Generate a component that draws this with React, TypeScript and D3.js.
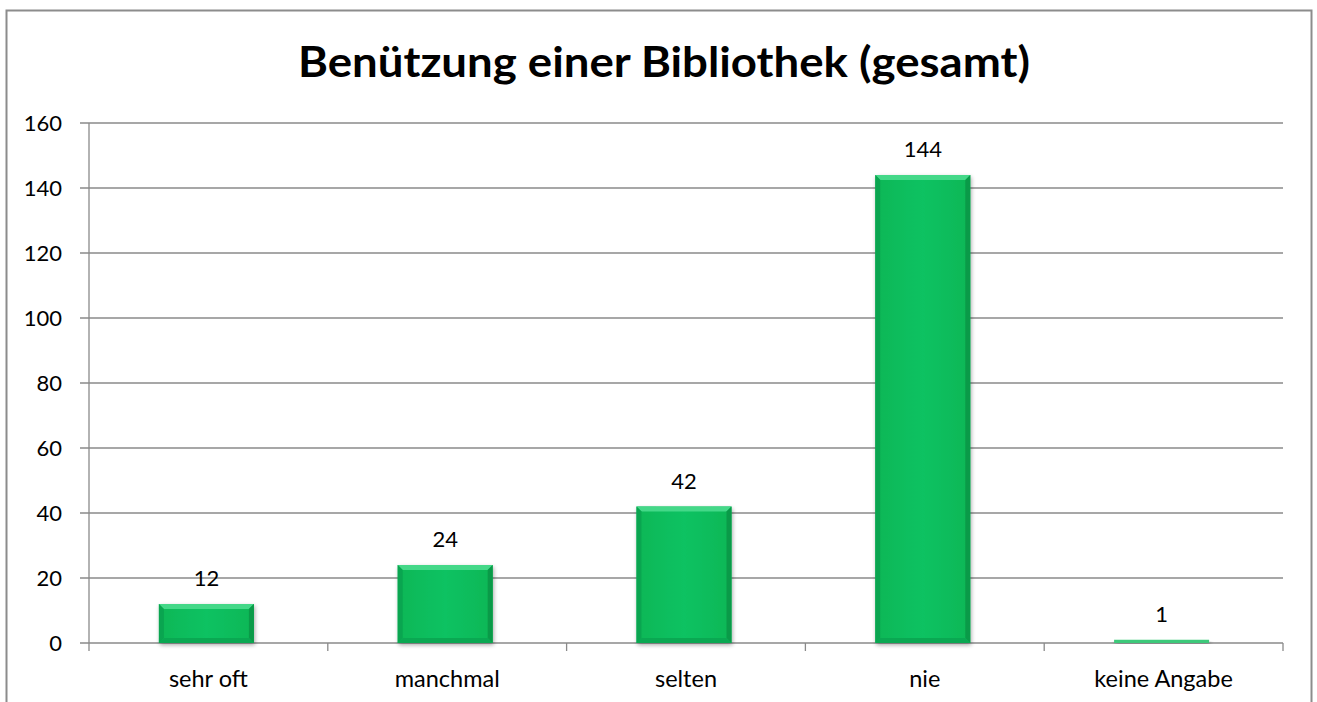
import React from "react";
import * as d3 from "d3";

const categories = ["sehr oft", "manchmal", "selten", "nie", "keine Angabe"];
const values = [12, 24, 42, 144, 1];
const yTicks = [0, 20, 40, 60, 80, 100, 120, 140, 160];
const title = "Benützung einer Bibliothek (gesamt)";

const W = 1317;
const H = 702;
const left = 89;
const right = 1283;
const top = 123;
const bottom = 643;
const font = "Lato, 'Open Sans', 'Liberation Sans', sans-serif";

export default function App() {
  const x = d3.scaleBand<string>().domain(categories).range([left, right]).paddingInner(0).paddingOuter(0);
  const y = d3.scaleLinear().domain([0, 160]).range([bottom, top]);
  const bw = 95;
  const bev = 5;
  return (
    <svg width={W} height={H} style={{ position: "absolute", left: 0, top: 0, display: "block" }}>
      <defs>
        <linearGradient id="face" x1="0" x2="1" y1="0" y2="0">
          <stop offset="0" stopColor="#0bb756" />
          <stop offset="0.5" stopColor="#10c262" />
          <stop offset="1" stopColor="#0bb756" />
        </linearGradient>
        <filter id="sh" x="-20%" y="-20%" width="140%" height="140%">
          <feGaussianBlur in="SourceAlpha" stdDeviation="2" />
          <feOffset dx="1" dy="2" result="b" />
          <feComponentTransfer><feFuncA type="linear" slope="0.35" /></feComponentTransfer>
          <feMerge><feMergeNode /><feMergeNode in="SourceGraphic" /></feMerge>
        </filter>
      </defs>
      <rect x={0} y={0} width={W} height={H} fill="#fff" />
      <rect x={6.5} y={10.5} width={1305} height={H + 20} fill="#fff" stroke="#8c8c8c" strokeWidth={2} />
      <text x={664} y={77} textAnchor="middle" fontFamily={font} fontWeight="bold" fontSize={42} textLength={732} lengthAdjust="spacingAndGlyphs" fill="#000">
        {title}
      </text>
      {yTicks.map((t) => (
        <g key={t}>
          <line x1={80} x2={right} y1={y(t)} y2={y(t)} stroke="#8a8a8a" strokeWidth={1.3} />
          <text x={62} y={y(t) + 8} textAnchor="end" fontFamily={font} fontSize={22} fill="#000">{t}</text>
        </g>
      ))}
      <line x1={left} x2={left} y1={top} y2={bottom} stroke="#8a8a8a" strokeWidth={1.3} />
      {categories.map((c, i) => (
        <line key={"t" + i} x1={(x(c) as number) + x.bandwidth()} x2={(x(c) as number) + x.bandwidth()} y1={bottom} y2={bottom + 8} stroke="#8a8a8a" strokeWidth={1.3} />
      ))}
      <line x1={left} x2={left} y1={bottom} y2={bottom + 8} stroke="#8a8a8a" strokeWidth={1.3} />
      {categories.map((c, i) => {
        const cx = (x(c) as number) + x.bandwidth() / 2 - 2;
        const x0 = cx - bw / 2;
        const y0 = y(values[i]);
        const h = bottom - y0;
        const b = Math.min(bev, h / 2);
        return (
          <g key={c}>
            <g filter="url(#sh)">
              <rect x={x0} y={y0} width={bw} height={h} fill={h > 4 ? "url(#face)" : "#3cc97a"} />
            </g>
            {h > 4 ? (
              <g>
                <polygon points={`${x0},${y0} ${x0 + bw},${y0} ${x0 + bw - b},${y0 + b} ${x0 + b},${y0 + b}`} fill="#44d888" />
                <polygon points={`${x0},${y0} ${x0 + b},${y0 + b} ${x0 + b},${bottom - b} ${x0},${bottom}`} fill="#0aa550" />
                <polygon points={`${x0 + bw},${y0} ${x0 + bw - b},${y0 + b} ${x0 + bw - b},${bottom - b} ${x0 + bw},${bottom}`} fill="#0a9a48" />
                <polygon points={`${x0},${bottom} ${x0 + b},${bottom - b} ${x0 + bw - b},${bottom - b} ${x0 + bw},${bottom}`} fill="#0aa852" />
              </g>
            ) : null}
            <text x={cx} y={y0 - 18} textAnchor="middle" fontFamily={font} fontSize={22} fill="#000">{values[i]}</text>
            <text x={cx + 2} y={687} textAnchor="middle" fontFamily={font} fontSize={23.5} fill="#000">{c}</text>
          </g>
        );
      })}
    </svg>
  );
}
